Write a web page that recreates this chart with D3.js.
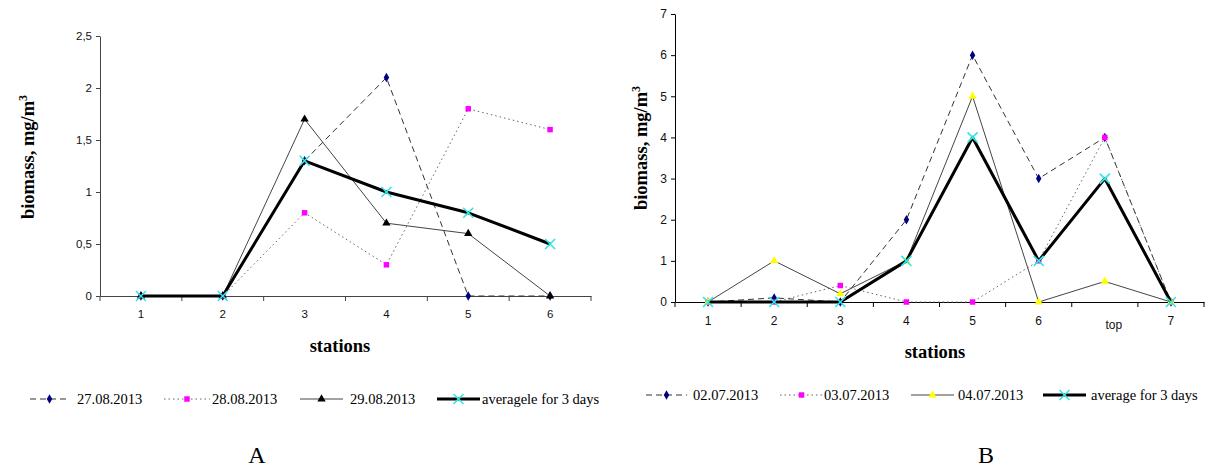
<!DOCTYPE html>
<html>
<head>
<meta charset="utf-8">
<script src="https://cdn.jsdelivr.net/npm/d3@7"></script>
<style>
  body { margin: 0; background: #fff; }
  svg { display: block; }
  .tick text { font-family: "Liberation Sans", Arial, sans-serif; fill: #111; }
  .serif { font-family: "Liberation Serif", "Times New Roman", serif; fill: #000; }
</style>
</head>
<body>
<svg id="chart" width="1205" height="470"></svg>
<script>
// Panel A: stations 1..6, late August
const stationsA = ['1', '2', '3', '4', '5', '6'];
const aug27 = [0, 0, 1.3, 2.1, 0, 0];
const aug28 = [0, 0, 0.8, 0.3, 1.8, 1.6];
const aug29 = [0, 0, 1.7, 0.7, 0.6, 0];
const avgA = [0, 0, 1.3, 1.0, 0.8, 0.5];
const ticksA = [0, 0.5, 1, 1.5, 2, 2.5];
const legendA = ['27.08.2013', '28.08.2013', '29.08.2013', 'averagele for 3 days'];

// Panel B: stations 1..7 plus "top", early July
const stationsB = ['1', '2', '3', '4', '5', '6', 'top', '7'];
const jul02 = [0, 0.1, 0, 2, 6, 3, 4, 0];
const jul03 = [0, 0, 0.4, 0, 0, 1, 4, 0];
const jul04 = [0, 1, 0.2, 1, 5, 0, 0.5, 0];
const avgB = [0, 0, 0, 1, 4, 1, 3, 0];
const ticksB = [0, 1, 2, 3, 4, 5, 6, 7];
const legendB = ['02.07.2013', '03.07.2013', '04.07.2013', 'average for 3 days'];

const svg = d3.select('#chart');

// line + marker look for each of the four series
const styles = [
  { stroke: '#333', width: 1, dash: '6,4', marker: 'diamond', fill: '#000080' },
  { stroke: '#666', width: 1, dash: '1.5,3', marker: 'square', fill: '#ff00ff' },
  { stroke: '#444', width: 1, dash: null, marker: 'triangle', fill: '#000' },
  { stroke: '#000', width: 3, dash: null, marker: 'cross', fill: '#33e6e6' },
];

const drawMarker = (g, kind, x, y, fill) => {
  if (kind === 'cross') {
    g.append('path')
      .attr('d', `M${x - 5},${y - 5}L${x + 5},${y + 5}M${x - 5},${y + 5}L${x + 5},${y - 5}`)
      .attr('stroke', fill).attr('stroke-width', 1.6).attr('fill', 'none');
    return;
  }
  const sym = { diamond: d3.symbolDiamond, square: d3.symbolSquare, triangle: d3.symbolTriangle }[kind];
  const size = { diamond: 26, square: 30, triangle: 30 }[kind];
  g.append('path')
    .attr('d', d3.symbol(sym, size)())
    .attr('transform', `translate(${x},${y})`)
    .attr('fill', fill);
};

const drawPanel = (cfg) => {
  const g = svg.append('g');
  const x = d3.scaleBand().domain(cfg.categories).range([cfg.left, cfg.right]);
  const y = d3.scaleLinear().domain([0, cfg.max]).range([cfg.bottom, cfg.top]);
  const fmt = d => String(d).replace('.', ',');

  // y axis
  const yAxis = g.append('g')
    .attr('transform', `translate(${cfg.left},0)`)
    .call(d3.axisLeft(y).tickValues(cfg.ticks).tickFormat(fmt).tickSize(4).tickSizeOuter(0).tickPadding(4));
  yAxis.selectAll('text').style('font-size', cfg.tickFont);
  yAxis.selectAll('line, path').attr('stroke', cfg.axisColor);

  // x axis: labels centred, tick marks between categories
  const xAxis = g.append('g')
    .attr('transform', `translate(0,${cfg.bottom})`)
    .call(d3.axisBottom(x).tickSize(0).tickPadding(cfg.xPad));
  xAxis.select('.domain').attr('stroke', cfg.axisColor);
  xAxis.selectAll('text').style('font-size', cfg.tickFont)
    .attr('dx', d => (d === 'top' ? 9 : 0))
    .attr('dy', d => (d === 'top' ? '1.05em' : '0.71em'));
  const edges = cfg.categories.map(c => x(c)).concat([cfg.right]);
  xAxis.selectAll('.edge').data(edges).join('line')
    .attr('x1', d => d).attr('x2', d => d).attr('y1', 0).attr('y2', 5)
    .attr('stroke', cfg.axisColor);

  // series
  const line = d3.line().x((d, i) => x(cfg.categories[i]) + x.bandwidth() / 2).y(d => y(d));
  cfg.series.forEach((vals, k) => {
    const st = styles[k];
    g.append('path').datum(vals)
      .attr('d', line).attr('fill', 'none')
      .attr('stroke', st.stroke).attr('stroke-width', st.width)
      .attr('stroke-dasharray', st.dash)
      .attr('stroke-linejoin', 'round');
    const fill = k === 2 ? cfg.triFill : st.fill;
    vals.forEach((v, i) => drawMarker(g, st.marker, x(cfg.categories[i]) + x.bandwidth() / 2, y(v), fill));
  });

  // axis titles
  g.append('text').attr('class', 'serif')
    .attr('x', cfg.xTitle[0]).attr('y', cfg.xTitle[1])
    .attr('text-anchor', 'middle').style('font-weight', 'bold').style('font-size', '18.5px')
    .text('stations');
  const yt = g.append('text').attr('class', 'serif')
    .attr('transform', `translate(${cfg.yTitle[0]},${cfg.yTitle[1]}) rotate(-90)`)
    .attr('text-anchor', 'middle').style('font-weight', 'bold').style('font-size', '18.5px');
  yt.append('tspan').text('biomass, mg/m');
  yt.append('tspan').attr('dy', '-0.55em').style('font-size', '12px').text('3');

  // legend
  cfg.legendX.forEach((lx, k) => {
    const st = styles[k];
    const ly = cfg.legendY;
    g.append('line')
      .attr('x1', lx[0]).attr('x2', lx[1]).attr('y1', ly).attr('y2', ly)
      .attr('stroke', st.stroke).attr('stroke-width', st.width)
      .attr('stroke-dasharray', st.dash);
    drawMarker(g, st.marker, (lx[0] + lx[1]) / 2, ly, k === 2 ? cfg.triFill : st.fill);
    g.append('text').attr('class', 'serif')
      .attr('x', lx[2]).attr('y', ly + 5).style('font-size', '14.5px')
      .text(cfg.legend[k]);
  });

  g.append('text').attr('class', 'serif')
    .attr('x', cfg.letter[0]).attr('y', cfg.letter[1])
    .attr('text-anchor', 'middle').style('font-size', '24px')
    .text(cfg.letter[2]);
};

drawPanel({
  categories: stationsA, series: [aug27, aug28, aug29, avgA], ticks: ticksA, max: 2.5,
  left: 100, right: 591, top: 36, bottom: 296,
  tickFont: '11.5px', xPad: 14, axisColor: '#444', triFill: '#000',
  xTitle: [340, 352], yTitle: [34, 157],
  legend: legendA, legendY: 399,
  legendX: [[30, 69, 77], [164, 210, 212], [300, 343, 350], [437, 480, 482]],
  letter: [257, 463, 'A'],
});

drawPanel({
  categories: stationsB, series: [jul02, jul03, jul04, avgB], ticks: ticksB, max: 7,
  left: 675, right: 1204, top: 14, bottom: 302,
  tickFont: '12px', xPad: 14, axisColor: '#000', triFill: '#ffff00',
  xTitle: [935, 358], yTitle: [647, 148],
  legend: legendB, legendY: 395,
  legendX: [[646, 687, 693], [780, 823, 824], [911, 954, 958], [1043, 1086, 1091]],
  letter: [986, 463, 'B'],
});
</script>
</body>
</html>
